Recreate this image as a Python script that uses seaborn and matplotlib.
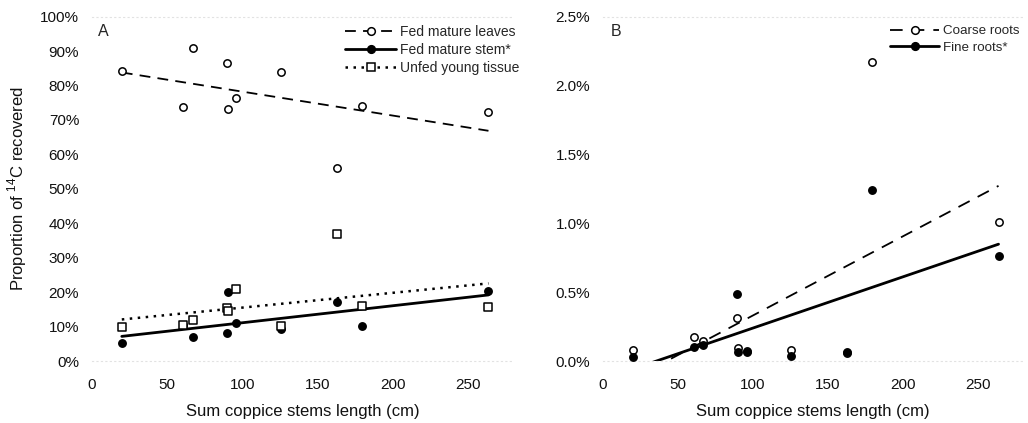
import numpy as np
import pandas as pd
import matplotlib
matplotlib.use("Agg")
import matplotlib.pyplot as plt
from matplotlib.lines import Line2D
from matplotlib.ticker import FuncFormatter, MultipleLocator
import seaborn as sns

# Sum of coppice stem lengths per plant (cm)
stem_length = [20, 61, 67, 89.6, 90.3, 95.8, 125.7, 162.8, 179.6, 263.7]

# Panel A: proportion of 14C recovered (%)
fed_leaves = [84.1, 73.9, 90.8, 86.5, 73.1, 76.5, 84.0, 56.2, 74.1, 72.4]
fed_stem = [5.3, 10.4, 7.0, 8.2, 20.0, 10.9, 9.4, 17.2, 10.1, 20.2]
unfed_young = [9.9, 10.6, 11.8, 15.3, 14.5, 21.0, 10.1, 36.9, 15.9, 15.7]

# Panel B: proportion of 14C recovered in roots (%)
coarse_roots = [0.077, 0.176, 0.145, 0.314, 0.097, 0.070, 0.077, 0.060, 2.17, 1.01]
fine_roots = [0.030, 0.100, 0.116, 0.490, 0.065, 0.065, 0.036, 0.065, 1.24, 0.76]

labels_a = ["Fed mature leaves", "Fed mature stem*", "Unfed young tissue"]
labels_b = ["Coarse roots", "Fine roots*"]

df = pd.DataFrame({
    "length": stem_length,
    "leaves": fed_leaves,
    "stem": fed_stem,
    "young": unfed_young,
    "coarse": coarse_roots,
    "fine": fine_roots,
})

sns.set_theme(style="white")
plt.rcParams["font.family"] = ["Liberation Sans", "DejaVu Sans"]
plt.rcParams["mathtext.fontset"] = "custom"
plt.rcParams["mathtext.rm"] = "Liberation Sans"

W, H = 1028, 423
fig = plt.figure(figsize=(W / 100, H / 100), dpi=100)


def px_axes(x0, x1, y_top, y_bot):
    return fig.add_axes([x0 / W, 1 - y_bot / H, (x1 - x0) / W, (y_bot - y_top) / H])


ax_a = px_axes(91.7, 513, 16.7, 361)
ax_b = px_axes(602.7, 1023, 16.7, 361)

dash_leaf = (0, (6, 4))
dash_root = (0, (7, 5))
dotted = (0, (1, 2.2))

series_a = [
    ("leaves", "o", "white", dash_leaf, 1.3),
    ("stem", "o", "black", "-", 2.0),
    ("young", "s", "white", dotted, 1.8),
]
series_b = [
    ("coarse", "o", "white", dash_root, 1.3),
    ("fine", "o", "black", "-", 2.0),
]


def draw_panel(ax, series):
    # fitted trend lines over the data range
    for col, _, _, ls, lw in series:
        sns.regplot(data=df, x="length", y=col, ax=ax, scatter=False, ci=None,
                    truncate=True, color="black",
                    line_kws=dict(linestyle=ls, linewidth=lw))
    for col, mk, fc, _, _ in series:
        sns.scatterplot(data=df, x="length", y=col, ax=ax, marker=mk,
                        s=28 if mk == "o" else 26, facecolor=fc,
                        edgecolor="black", linewidth=1.1, zorder=3)


draw_panel(ax_a, series_a)
draw_panel(ax_b, series_b)

ax_a.set_ylim(0, 100)
ax_a.yaxis.set_major_locator(MultipleLocator(10))
ax_a.yaxis.set_major_formatter(FuncFormatter(lambda v, p: f"{v:.0f}%"))
ax_b.set_ylim(0, 2.5)
ax_b.yaxis.set_major_locator(MultipleLocator(0.5))
ax_b.yaxis.set_major_formatter(FuncFormatter(lambda v, p: f"{v:.1f}%"))

for ax in (ax_a, ax_b):
    ax.set_xlim(0, 280)
    ax.set_xticks([0, 50, 100, 150, 200, 250])
    ax.tick_params(axis="both", length=0, labelsize=11, colors="#111111")
    ax.tick_params(axis="y", pad=9)
    ax.tick_params(axis="x", pad=12)
    ax.set_xlabel("Sum coppice stems length (cm)", fontsize=12, color="#111111",
                  labelpad=9)
    ax.set_ylabel("")
    for side in ("left", "right"):
        ax.spines[side].set_visible(False)
    for side in ("top", "bottom"):
        ax.spines[side].set_color("#e2e2e2")
        ax.spines[side].set_linestyle((0, (1, 3)))
        ax.spines[side].set_linewidth(0.8)

ax_a.set_ylabel("Proportion of $^{14}$C recovered", fontsize=12, color="#111111",
                labelpad=8)

fig.text(103 / W, 1 - 32 / H, "A", fontsize=11.5, ha="center", va="center")
fig.text(616 / W, 1 - 32 / H, "B", fontsize=11.5, ha="center", va="center")


def legend_handles(series, labels):
    hs = []
    for (col, mk, fc, ls, lw), lab in zip(series, labels):
        hs.append(Line2D([0], [0], color="black", linestyle=ls, linewidth=lw,
                         marker=mk, markersize=5.5, markerfacecolor=fc,
                         markeredgecolor="black", markeredgewidth=1.1, label=lab))
    return hs


leg_kw = dict(frameon=False, loc="upper left", handlelength=3.7,
              handletextpad=0.25, labelspacing=0.3, borderpad=0, borderaxespad=0,
              numpoints=1)
ax_a.legend(handles=legend_handles(series_a, labels_a), fontsize=10,
            bbox_to_anchor=(345 / W, 1 - 25 / H), bbox_transform=fig.transFigure,
            **leg_kw)
ax_b.legend(handles=legend_handles(series_b, labels_b), fontsize=9.6,
            bbox_to_anchor=(890 / W, 1 - 25 / H), bbox_transform=fig.transFigure,
            **leg_kw)

fig.savefig("out.png", dpi=100)
